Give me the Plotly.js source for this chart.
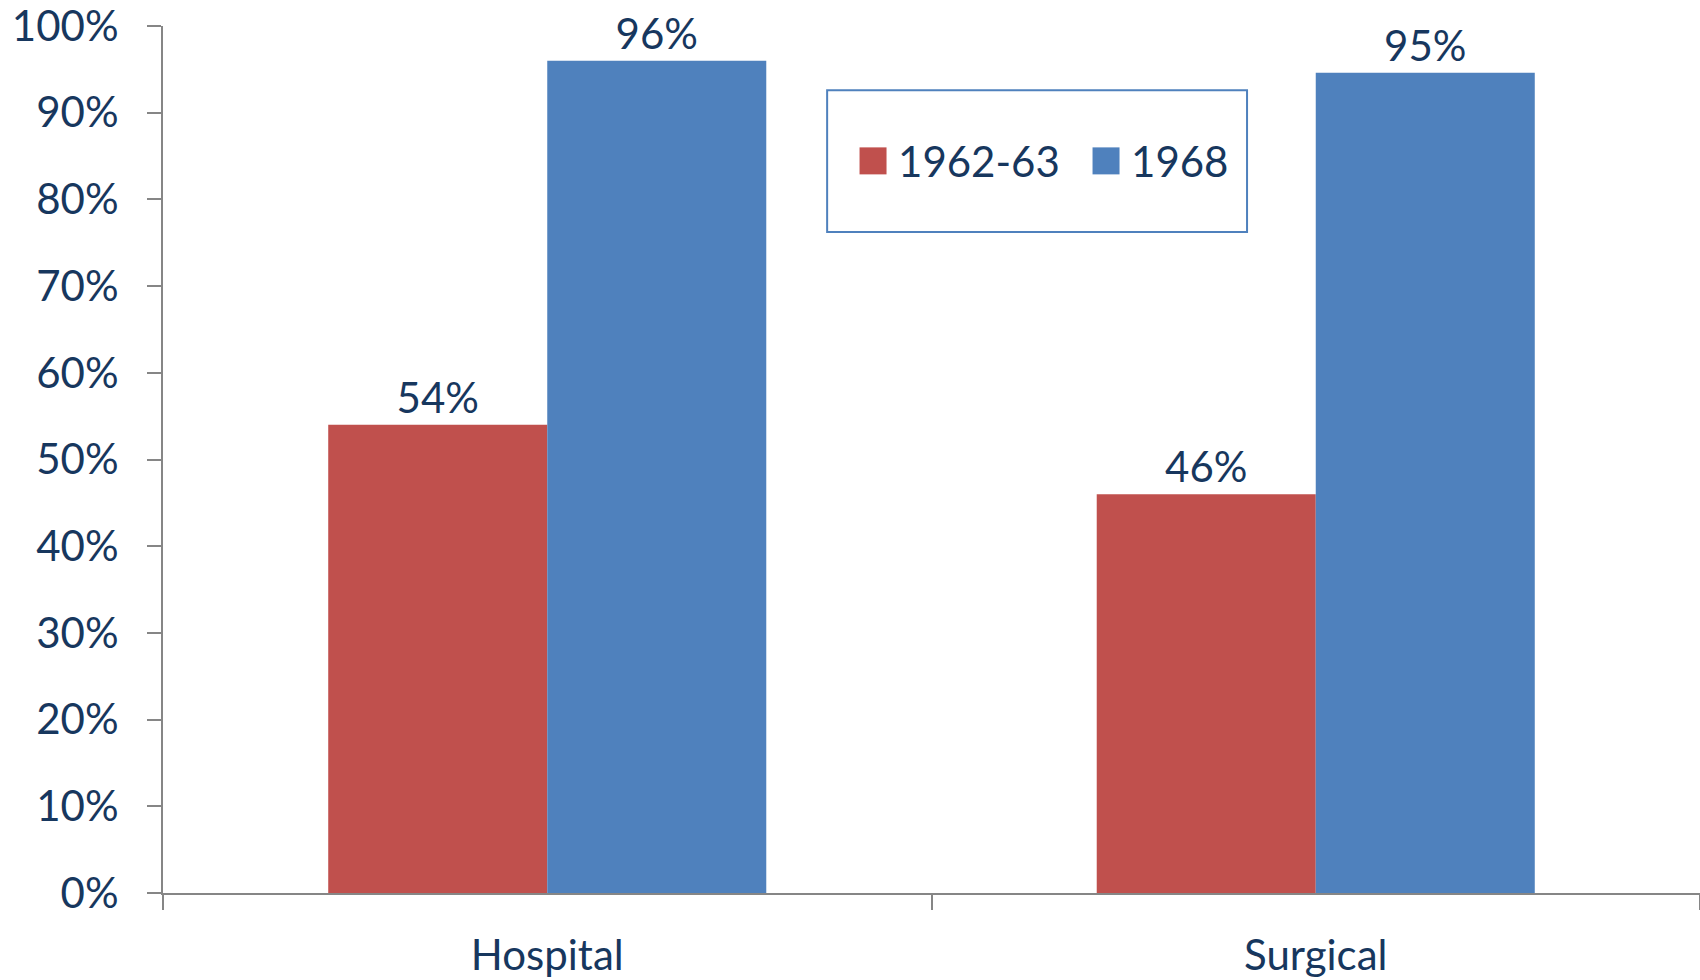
<!DOCTYPE html>
<html>
<head>
<meta charset="utf-8">
<script src="https://cdn.plot.ly/plotly-3.0.1.min.js"></script>
<style>
  html, body { margin: 0; padding: 0; background: #ffffff; }
  #chart { width: 1700px; height: 980px; }
</style>
</head>
<body>
<div id="chart"></div>
<script>
const categories = ["Hospital", "Surgical"];
const seriesNames = ["1962-63", "1968"];
const values1962 = [0.54, 0.46];
const values1968 = [0.96, 0.946];
const yTickValues = [0, 0.1, 0.2, 0.3, 0.4, 0.5, 0.6, 0.7, 0.8, 0.9, 1.0];

const FONT = "Lato, 'Open Sans', sans-serif";
const TEXT_COLOR = "#17375E";
const AXIS_COLOR = "#868686";
const RED = "#C0504D";
const BLUE = "#4F81BD";

const traces = [
  {
    type: "bar",
    name: seriesNames[0],
    x: categories,
    y: values1962,
    marker: { color: RED },
    texttemplate: "%{y:.0%}",
    textposition: "outside",
    cliponaxis: false,
    textfont: { family: FONT, size: 42, color: TEXT_COLOR },
    hoverinfo: "skip"
  },
  {
    type: "bar",
    name: seriesNames[1],
    x: categories,
    y: values1968,
    marker: { color: BLUE },
    texttemplate: "%{y:.0%}",
    textposition: "outside",
    cliponaxis: false,
    textfont: { family: FONT, size: 42, color: TEXT_COLOR },
    hoverinfo: "skip"
  }
];

const layout = {
  width: 1700,
  height: 980,
  margin: { l: 163, r: 0, t: 26, b: 87, pad: 0 },
  paper_bgcolor: "#ffffff",
  plot_bgcolor: "#ffffff",
  font: { family: FONT, size: 42, color: TEXT_COLOR },
  barmode: "group",
  bargap: 0.43,
  bargroupgap: 0,
  showlegend: true,
  legend: {
    orientation: "h",
    x: 0.4522,
    y: 0.8442,
    xanchor: "left",
    yanchor: "middle",
    entrywidth: 188,
    entrywidthmode: "pixels",
    bgcolor: "rgba(0,0,0,0)",
    borderwidth: 0,
    font: { family: FONT, size: 42, color: TEXT_COLOR },
    itemclick: false,
    itemdoubleclick: false
  },
  shapes: [
    {
      type: "rect",
      xref: "paper", yref: "paper",
      x0: 0.4321, x1: 0.7053, y0: 0.7624, y1: 0.926,
      line: { color: BLUE, width: 2 },
      fillcolor: "rgba(0,0,0,0)",
      layer: "below"
    }
  ],
  xaxis: {
    type: "category",
    showline: true,
    linecolor: AXIS_COLOR,
    linewidth: 2,
    ticks: "outside",
    tickson: "boundaries",
    ticklen: 15,
    tickwidth: 2,
    tickcolor: AXIS_COLOR,
    showgrid: false,
    zeroline: false,
    ticklabelstandoff: 25,
    tickfont: { family: FONT, size: 42, color: TEXT_COLOR }
  },
  yaxis: {
    range: [0, 1],
    tickvals: yTickValues,
    tickformat: ".0%",
    ticklabeloverflow: "allow",
    showline: true,
    linecolor: AXIS_COLOR,
    linewidth: 2,
    ticks: "outside",
    ticklen: 14,
    tickwidth: 2,
    tickcolor: AXIS_COLOR,
    showgrid: false,
    zeroline: false,
    ticklabelstandoff: 20,
    tickfont: { family: FONT, size: 42, color: TEXT_COLOR }
  }
};

Plotly.newPlot("chart", traces, layout, { displayModeBar: false, staticPlot: true }).then(function () {
  document.querySelectorAll("#chart .legend .legendpoints path").forEach(function (p) {
    p.setAttribute("d", "M8.5,13.5H-18.5V-13.5H8.5Z");
  });
});
</script>
</body>
</html>
